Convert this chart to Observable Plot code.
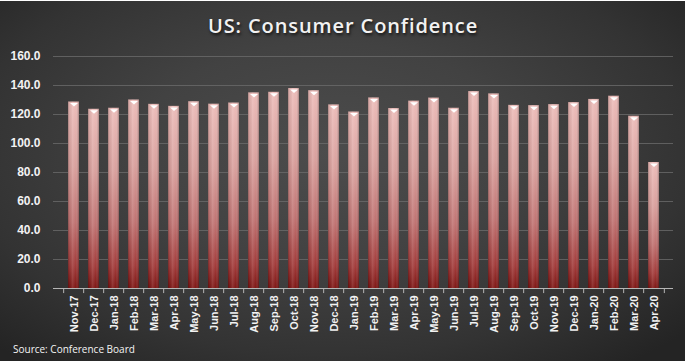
<!DOCTYPE html>
<html>
<head>
<meta charset="utf-8">
<script src="https://cdn.jsdelivr.net/npm/d3@7"></script>
<script src="https://cdn.jsdelivr.net/npm/@observablehq/plot@0.6"></script>
<style>
  html, body { margin: 0; padding: 0; }
  #chart {
    width: 686px; height: 361px; box-sizing: border-box; position: relative; overflow: hidden;
    background: radial-gradient(ellipse 70% 75% at 48% 42%, #4c4c4c 0%, #424242 40%, #333 75%, #242424 100%);
    box-shadow: inset -1px 1px 0 #ffffff;
    font-family: "Open Sans", "DejaVu Sans", sans-serif;
  }
  #title {
    height: 44px; line-height: 44px; text-align: center; color: #f2f2f2;
    font-family: "Open Sans", sans-serif; font-size: 20px; font-weight: 600; letter-spacing: 0.9px;
    text-shadow: 1px 2px 3px rgba(0,0,0,0.7);
    padding-top: 4px; box-sizing: border-box;
  }
  #source {
    position: absolute; left: 13px; top: 342px; color: #f4f4f4;
    font-family: "Open Sans", sans-serif; font-size: 10px;
  }
  svg { display: block; }
</style>
</head>
<body>
<div id="chart">
  <div id="title">US: Consumer Confidence</div>
  <div id="plot"></div>
  <div id="source">Source: Conference Board</div>
</div>
<script>
const months = ["Nov-17","Dec-17","Jan-18","Feb-18","Mar-18","Apr-18","May-18","Jun-18","Jul-18","Aug-18","Sep-18","Oct-18","Nov-18","Dec-18","Jan-19","Feb-19","Mar-19","Apr-19","May-19","Jun-19","Jul-19","Aug-19","Sep-19","Oct-19","Nov-19","Dec-19","Jan-20","Feb-20","Mar-20","Apr-20"];
const confidence = [128.6,123.6,124.3,130.0,127.0,125.6,128.8,127.1,127.9,134.9,135.3,137.9,136.4,126.6,121.7,131.4,124.1,129.2,131.3,124.3,135.8,134.2,126.3,126.1,126.8,128.2,130.4,132.6,118.8,86.9];
const yTicks = [0,20,40,60,80,100,120,140,160];

const data = months.map((m, i) => ({month: m, value: confidence[i]}));

const W = 686, marginLeft = 53, marginRight = 13;
const step = (W - marginLeft - marginRight) / months.length;

const flatTriangle = {
  draw(ctx) {
    ctx.moveTo(-4, 0);
    ctx.lineTo(4, 0);
    ctx.lineTo(0, 3.5);
    ctx.closePath();
  }
};

const plot = Plot.plot({
  width: W,
  height: 296,
  marginTop: 12,
  marginBottom: 52,
  marginLeft,
  marginRight,
  style: {background: "transparent", color: "#f2f2f2", fontFamily: "Liberation Sans, Arial, sans-serif", overflow: "visible"},
  x: {domain: months, paddingInner: 0.47, paddingOuter: 0.235, label: null},
  y: {domain: [0, 160], label: null},
  marks: [
    Plot.gridY(yTicks, {stroke: "#6a6a6a", strokeOpacity: 0.8, strokeWidth: 1}),
    Plot.barY(data, {x: "month", y: "value", fill: "url(#barGradV)"}),
    Plot.barY(data, {x: "month", y: "value", fill: "url(#barGradH)"}),
    Plot.dot(data, {x: "month", y: "value", symbol: flatTriangle, fill: "#ffffff", stroke: "none", dy: 1}),
    Plot.ruleY([0], {stroke: "#b5b5b5", strokeWidth: 1}),
    Plot.ruleX(months, {x: d => d, y1: 0, y2: -3.5, dx: -step / 2, stroke: "#b5b5b5"}),
    Plot.ruleX([months[months.length - 1]], {x: d => d, y1: 0, y2: -3.5, dx: step / 2, stroke: "#b5b5b5"}),
    Plot.axisY(yTicks, {tickSize: 0, tickPadding: 13, tickFormat: d => d.toFixed(1), fontSize: 12, fontWeight: "bold", fill: "#f2f2f2"}),
    Plot.axisX({tickSize: 0, tickPadding: 7, tickRotate: -90, fontSize: 11, fontWeight: "bold", fill: "#f2f2f2"})
  ]
});

const svg = d3.select(plot);
const defs = svg.insert("defs", ":first-child");
const gv = defs.append("linearGradient").attr("id", "barGradV").attr("x1", 0).attr("y1", 0).attr("x2", 0).attr("y2", 1);
[["0%", "#ecbcb9"], ["35%", "#d9a09d"], ["65%", "#c07372"], ["88%", "#a23c3b"], ["100%", "#7e1715"]]
  .forEach(([o, c]) => gv.append("stop").attr("offset", o).attr("stop-color", c));
const gh = defs.append("linearGradient").attr("id", "barGradH").attr("x1", 0).attr("y1", 0).attr("x2", 1).attr("y2", 0);
[["0%", "#000", 0.28], ["15%", "#000", 0.05], ["40%", "#fff", 0.12], ["70%", "#fff", 0.0], ["100%", "#000", 0.3]]
  .forEach(([o, c, a]) => gh.append("stop").attr("offset", o).attr("stop-color", c).attr("stop-opacity", a));

document.getElementById("plot").appendChild(plot);
</script>
</body>
</html>
